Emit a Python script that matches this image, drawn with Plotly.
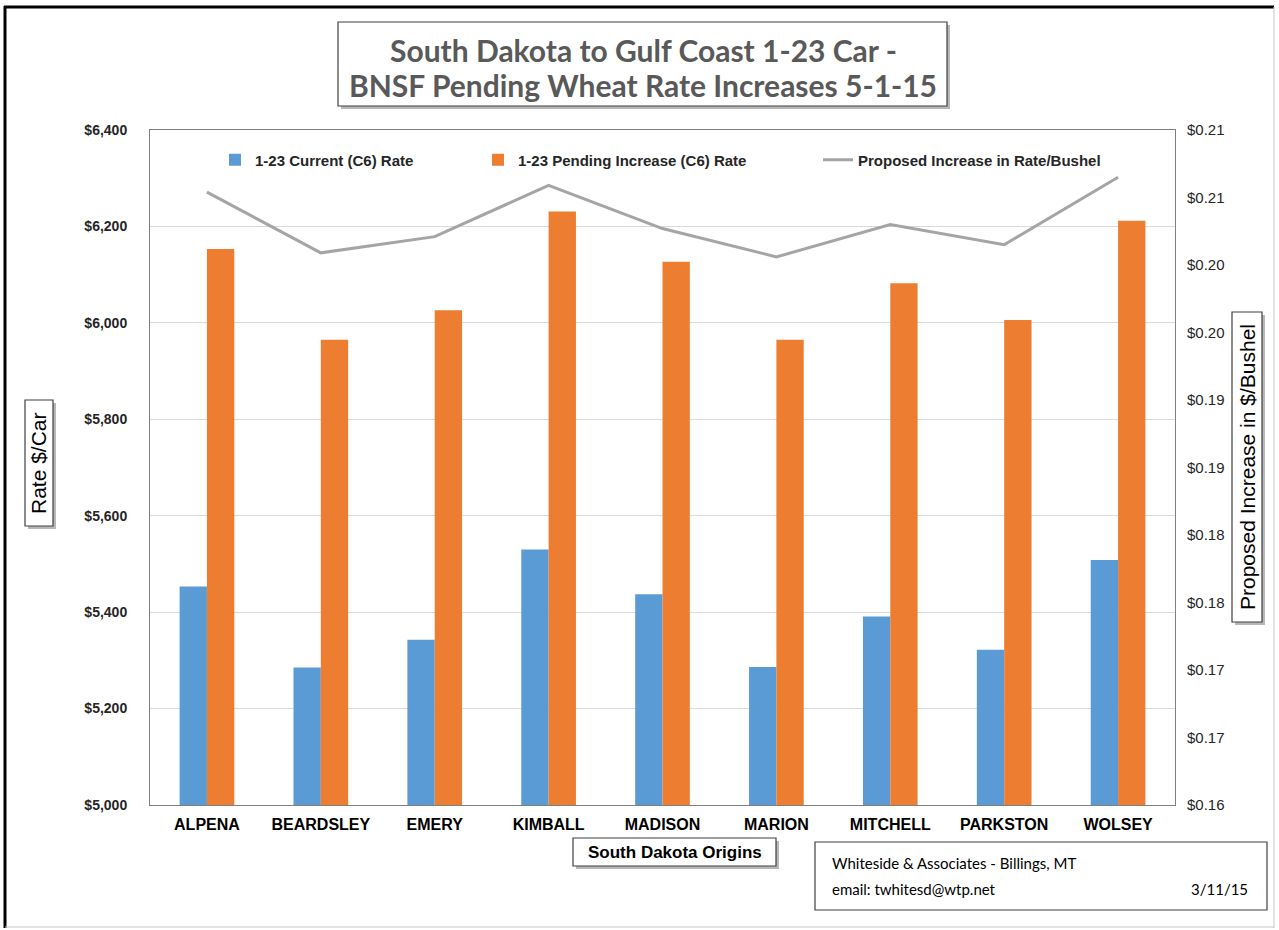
import plotly.graph_objects as go

# ---------------- data ----------------
origins = ["ALPENA", "BEARDSLEY", "EMERY", "KIMBALL", "MADISON",
           "MARION", "MITCHELL", "PARKSTON", "WOLSEY"]
current_rate = [5453, 5285, 5343, 5530, 5437, 5286, 5391, 5322, 5508]
pending_rate = [6153, 5965, 6026, 6231, 6127, 5965, 6082, 6006, 6212]
increase_per_bushel = [0.2054, 0.2009, 0.2021, 0.2059, 0.2027,
                       0.2006, 0.2030, 0.2015, 0.2065]
right_tickvals = [0.16, 0.165, 0.17, 0.175, 0.18, 0.185, 0.19, 0.195, 0.20, 0.205, 0.21]
right_ticktext = ["$0.16", "$0.17", "$0.17", "$0.18", "$0.18", "$0.19",
                  "$0.19", "$0.20", "$0.20", "$0.21", "$0.21"]

W, H = 1279, 930
L, R, T, B = 150, 1175, 130, 805


def xp(px):
    return (px - L) / (R - L)


def yp(py):
    return (B - py) / (B - T)


BLUE = "#5B9BD5"
ORANGE = "#ED7D31"
GRAY = "#A5A5A5"
SANS = "Liberation Sans, Arial, sans-serif"
CAL = "Lato, Open Sans, sans-serif"

fig = go.Figure()
fig.add_trace(go.Bar(x=origins, y=current_rate, name="1-23 Current (C6) Rate",
                     marker=dict(color=BLUE, line=dict(width=0)), legendwidth=218))
fig.add_trace(go.Bar(x=origins, y=pending_rate, name="1-23 Pending Increase (C6) Rate",
                     marker=dict(color=ORANGE, line=dict(width=0)), legendwidth=295))
fig.add_trace(go.Scatter(x=origins, y=increase_per_bushel, name="Proposed Increase in Rate/Bushel",
                         mode="lines", line=dict(color=GRAY, width=3), yaxis="y2"))

shapes = []
annotations = []

# outer frame: black left/top, light grey right/bottom
shapes.append(dict(type="line", xref="paper", yref="paper", x0=xp(5), x1=xp(5), y0=yp(928), y1=yp(6),
                   line=dict(color="black", width=3)))
shapes.append(dict(type="line", xref="paper", yref="paper", x0=xp(4), x1=xp(1274), y0=yp(7), y1=yp(7),
                   line=dict(color="black", width=3)))
shapes.append(dict(type="line", xref="paper", yref="paper", x0=xp(1274), x1=xp(1274), y0=yp(928), y1=yp(7),
                   line=dict(color="#C8C8C8", width=1)))
shapes.append(dict(type="line", xref="paper", yref="paper", x0=xp(5), x1=xp(1274), y0=yp(927), y1=yp(927),
                   line=dict(color="#C8C8C8", width=1)))


def boxed(x0, y0, x1, y1, shadow=True, lw=1.2):
    if shadow:
        shapes.append(dict(type="rect", xref="paper", yref="paper",
                           x0=xp(x0 + 3), x1=xp(x1 + 3), y0=yp(y1 + 3), y1=yp(y0 + 3),
                           line=dict(width=0), fillcolor="rgba(0,0,0,0.28)", layer="above"))
    shapes.append(dict(type="rect", xref="paper", yref="paper",
                       x0=xp(x0), x1=xp(x1), y0=yp(y1), y1=yp(y0),
                       line=dict(color="#404040", width=lw), fillcolor="white", layer="above"))


def label(x, y, text, font, angle=0, xanchor="center"):
    annotations.append(dict(xref="paper", yref="paper", x=xp(x), y=yp(y), showarrow=False,
                            xanchor=xanchor, yanchor="middle", text=text, textangle=angle,
                            font=font))


# title box
boxed(338, 22, 947, 106)
label(643, 50, "<b>South Dakota to Gulf Coast 1-23 Car -</b>", dict(family=CAL, size=30, color="#595959"))
label(643, 85, "<b>BNSF Pending Wheat Rate Increases 5-1-15</b>", dict(family=CAL, size=30, color="#595959"))

# left axis title box
boxed(25, 400, 53, 526)
label(39, 463, "Rate $/Car", dict(family=SANS, size=21, color="black"), angle=-90)

# right axis title box
boxed(1232, 312, 1262, 622)
label(1247, 467, "Proposed Increase in $/Bushel", dict(family=SANS, size=21, color="black"), angle=-90)

# x axis title box
boxed(573, 838, 776, 866)
label(674.5, 852, "<b>South Dakota Origins</b>", dict(family=SANS, size=17, color="black"))

# source box
boxed(815, 842, 1267, 910, shadow=False)
label(830, 863, "Whiteside &amp; Associates - Billings, MT", dict(family=CAL, size=15, color="black"),
      xanchor="left")
label(830, 889, "email: twhitesd@wtp.net", dict(family=CAL, size=15, color="black"), xanchor="left")
label(1250, 889, "3/11/15", dict(family=CAL, size=15, color="black"), xanchor="right")

fig.update_layout(
    width=W, height=H,
    margin=dict(l=L, r=W - R, t=T, b=H - B),
    paper_bgcolor="white", plot_bgcolor="white",
    barmode="group", bargap=0.52, bargroupgap=0,
    font=dict(family=SANS, color="black"),
    showlegend=True,
    legend=dict(orientation="h", x=xp(215), xanchor="left", y=yp(160), yanchor="middle",
                bgcolor="rgba(0,0,0,0)", borderwidth=0, traceorder="normal",
                font=dict(family=SANS, size=15, color="#262626", weight="bold")),
    xaxis=dict(showgrid=False, showline=True, linecolor="#808080", linewidth=1, mirror=True,
               ticks="", tickfont=dict(family=SANS, size=16, color="black", weight="bold"),
               ticklabelstandoff=5),
    yaxis=dict(range=[5000, 6400], dtick=200, tickprefix="$", tickformat=",",
               showgrid=True, gridcolor="#D9D9D9", gridwidth=1,
               showline=True, linecolor="#808080", linewidth=1, mirror=True,
               zeroline=False, ticks="", ticklabelstandoff=19,
               tickfont=dict(family=SANS, size=14, color="#262626", weight="bold")),
    yaxis2=dict(overlaying="y", side="right", range=[0.16, 0.21],
                tickmode="array", tickvals=right_tickvals, ticktext=right_ticktext,
                showgrid=False, zeroline=False, showline=False, ticks="", ticklabelstandoff=11,
                tickfont=dict(family=SANS, size=15, color="#262626")),
    shapes=shapes, annotations=annotations,
)

fig.write_html("out.html", config={"displayModeBar": False},
               post_script="document.body.style.margin='0';document.body.style.padding='0';")
